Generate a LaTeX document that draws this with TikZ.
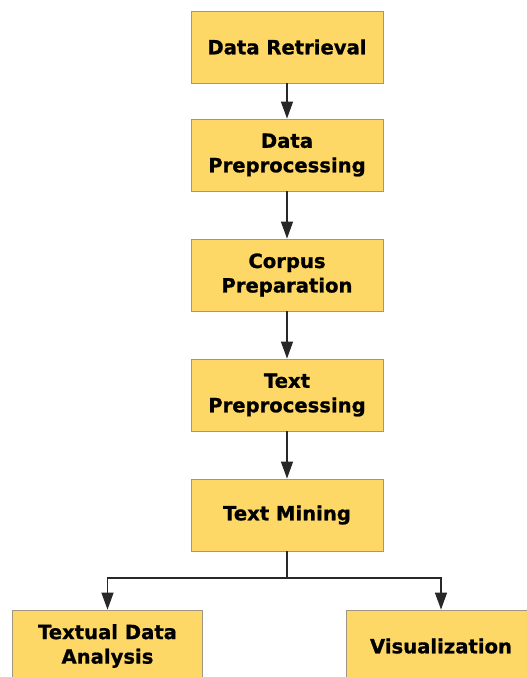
\documentclass[tikz,border=0pt]{standalone}
\usepackage{fontspec}
\setmainfont{DejaVu Sans}[BoldFeatures={FakeBold=0.9}]
\usetikzlibrary{positioning, arrows.meta}
\definecolor{boxfill}{RGB}{253,216,102}
\definecolor{boxline}{RGB}{160,150,130}
\definecolor{arrowgray}{RGB}{40,40,40}
\tikzset{
  stagebox/.style={draw=boxline, fill=boxfill, line width=0.8pt,
    minimum width=192pt, minimum height=72pt, inner sep=0pt,
    align=center, font=\fontsize{19.6}{24.5}\selectfont\bfseries},
  flow/.style={draw=arrowgray, line width=1.3pt,
    -{Triangle[length=17pt,width=12pt]}}
}
\begin{document}
\begin{tikzpicture}[x=1pt,y=1pt]
    % fix the page size
    \useasboundingbox (0,0) rectangle (527,-677);

    % draw the main stages
    \node[stagebox] (retrieval) at (287,-47)  {Data Retrieval};
    \node[stagebox] (dataprep)  at (287,-155) {Data\\Preprocessing};
    \node[stagebox] (corpus)    at (287,-275) {Corpus\\Preparation};
    \node[stagebox] (textprep)  at (287,-395) {Text\\Preprocessing};
    \node[stagebox] (mining)    at (287,-515) {Text Mining};

    % draw the two outputs
    \node[stagebox, minimum width=190pt] (analysis) at (107.5,-646) {Textual Data\\Analysis};
    \node[stagebox, minimum width=190pt] (visual)   at (441,-646)   {Visualization};

    % draw the arrows between stages
    \draw[flow] (retrieval) -- (dataprep);
    \draw[flow] (dataprep)  -- (corpus);
    \draw[flow] (corpus)    -- (textprep);
    \draw[flow] (textprep)  -- (mining);

    % draw the split
    \coordinate (split) at (287,-578);
    \draw[draw=arrowgray, line width=1.3pt] (mining.south) -- (split);
    \draw[flow] (split) -| (analysis.north);
    \draw[flow] (split) -| (visual.north);

  \end{tikzpicture}
\end{document}
